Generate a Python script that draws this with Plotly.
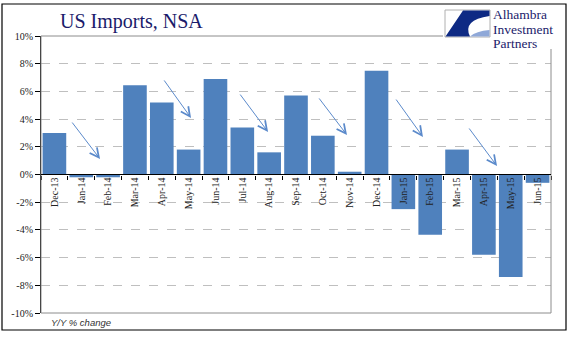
import plotly.graph_objects as go

categories = ["Dec-13", "Jan-14", "Feb-14", "Mar-14", "Apr-14", "May-14", "Jun-14",
              "Jul-14", "Aug-14", "Sep-14", "Oct-14", "Nov-14", "Dec-14", "Jan-15",
              "Feb-15", "Mar-15", "Apr-15", "May-15", "Jun-15"]
values = [3.0, -0.2, -0.2, 6.45, 5.2, 1.8, 6.9, 3.4, 1.6, 5.7, 2.8, 0.2, 7.5,
          -2.5, -4.35, 1.8, -5.8, -7.4, -0.6]
ytick_vals = [-10, -8, -6, -4, -2, 0, 2, 4, 6, 8, 10]
ytick_text = [f"{v}%" for v in ytick_vals]

# arrows: (start index, start value) -> (end index, end value)
arrow_x0 = [0.62, 4.05, 6.88, 9.82, 12.69, 15.41]
arrow_y0 = [3.86, 6.90, 5.88, 5.60, 5.52, 3.43]
arrow_x1 = [1.70, 5.09, 7.96, 10.90, 13.73, 16.49]
arrow_y1 = [1.12, 4.08, 3.07, 2.85, 2.71, 0.61]

W, H = 577, 341
L, R, T, B = 41, 26, 36, 28
PW, PH = W - L - R, H - T - B

def px(x):
    return (x - L) / PW

def py(y):
    return (H - B - y) / PH

BLUE = "#4F81BD"
NAVY = "#1B1B6B"
SERIF = "Liberation Serif, Times New Roman, serif"

fig = go.Figure()
fig.add_trace(go.Bar(x=categories, y=values, marker=dict(color=BLUE, line=dict(width=0)),
                     hoverinfo="skip"))

annotations = []
for x0, y0, x1, y1 in zip(arrow_x0, arrow_y0, arrow_x1, arrow_y1):
    annotations.append(dict(x=x1, y=y1, ax=x0, ay=y0, xref="x", yref="y",
                            axref="x", ayref="y", showarrow=True, arrowhead=5,
                            arrowsize=1.8, arrowwidth=1, arrowcolor="#5B8ACB", text=""))

annotations += [
    dict(text="US Imports, NSA", x=px(58), y=py(22), xref="paper", yref="paper",
         xanchor="left", yanchor="middle", showarrow=False,
         font=dict(family=SERIF, size=20, color=NAVY)),
    dict(text="Y/Y % change", x=px(49), y=py(322), xref="paper", yref="paper",
         xanchor="left", yanchor="middle", showarrow=False,
         font=dict(family="Liberation Sans, Arial, sans-serif", size=9.5, color="#333333",
                   style="italic")),
]
for txt, yc in zip(["Alhambra", "Investment", "Partners"], [14.5, 29, 43.5]):
    annotations.append(dict(text=txt, x=px(492), y=py(yc), xref="paper", yref="paper",
                            xanchor="left", yanchor="middle", showarrow=False,
                            borderpad=0,
                            font=dict(family=SERIF, size=13.5, color=NAVY)))

shapes = [
    # outer frame
    dict(type="rect", xref="paper", yref="paper", x0=px(2), x1=px(566), y0=py(330),
         y1=py(4), line=dict(color="black", width=1.2), layer="below"),
    # plot area border
    dict(type="rect", xref="paper", yref="paper", x0=0, x1=1, y0=0, y1=1,
         line=dict(color="#8C8C8C", width=1), layer="above"),
    # white patch behind logo
    dict(type="rect", xref="paper", yref="paper", x0=px(443), x1=px(565), y0=py(49),
         y1=py(5), fillcolor="white", line=dict(width=0), layer="above"),
    # logo box
    dict(type="rect", xref="paper", yref="paper", x0=px(445), x1=px(490), y0=py(37),
         y1=py(10), fillcolor="white", line=dict(color="#B0B0B0", width=1), layer="above"),
    # logo swoosh
    dict(type="path", xref="paper", yref="paper", layer="above",
         path=(f"M {px(463)},{py(10.5)} L {px(489.5)},{py(10.5)} L {px(489.5)},{py(16)} "
               f"Q {px(462)},{py(20)} {px(470)},{py(36.5)} L {px(445.5)},{py(36.5)} Z"),
         fillcolor="#0E2A84", line=dict(width=0)),
    dict(type="path", xref="paper", yref="paper", layer="above",
         path=(f"M {px(470)},{py(36.5)} Q {px(476)},{py(31)} {px(489.5)},{py(30)} "
               f"L {px(489.5)},{py(36.5)} Z"),
         fillcolor="#8FA8D8", line=dict(width=0)),
    # zero line
    dict(type="line", xref="paper", yref="y", x0=0, x1=1, y0=0, y1=0,
         line=dict(color="black", width=1), layer="above"),
]

fig.update_layout(
    width=W, height=H,
    margin=dict(l=L, r=R, t=T, b=B, pad=0),
    paper_bgcolor="white", plot_bgcolor="white",
    showlegend=False, bargap=0.12,
    annotations=annotations, shapes=shapes,
    xaxis=dict(type="category", anchor="free", position=0.5, showgrid=False,
               showline=False, ticks="outside", tickson="boundaries", ticklen=4,
               tickcolor="black", tickangle=-90, zeroline=False,
               tickfont=dict(family=SERIF, size=10, color="#222222"),
               range=[-0.5, len(categories) - 0.5]),
    yaxis=dict(range=[-10, 10], tickvals=ytick_vals, ticktext=ytick_text,
               showline=True, linecolor="black", linewidth=1, ticks="outside",
               ticklen=5, tickcolor="black", showgrid=True, gridcolor="#BFBFBF",
               griddash="dash", gridwidth=1, zeroline=False,
               tickfont=dict(family=SERIF, size=10, color="#222222")),
)

fig.write_html("out.html")
